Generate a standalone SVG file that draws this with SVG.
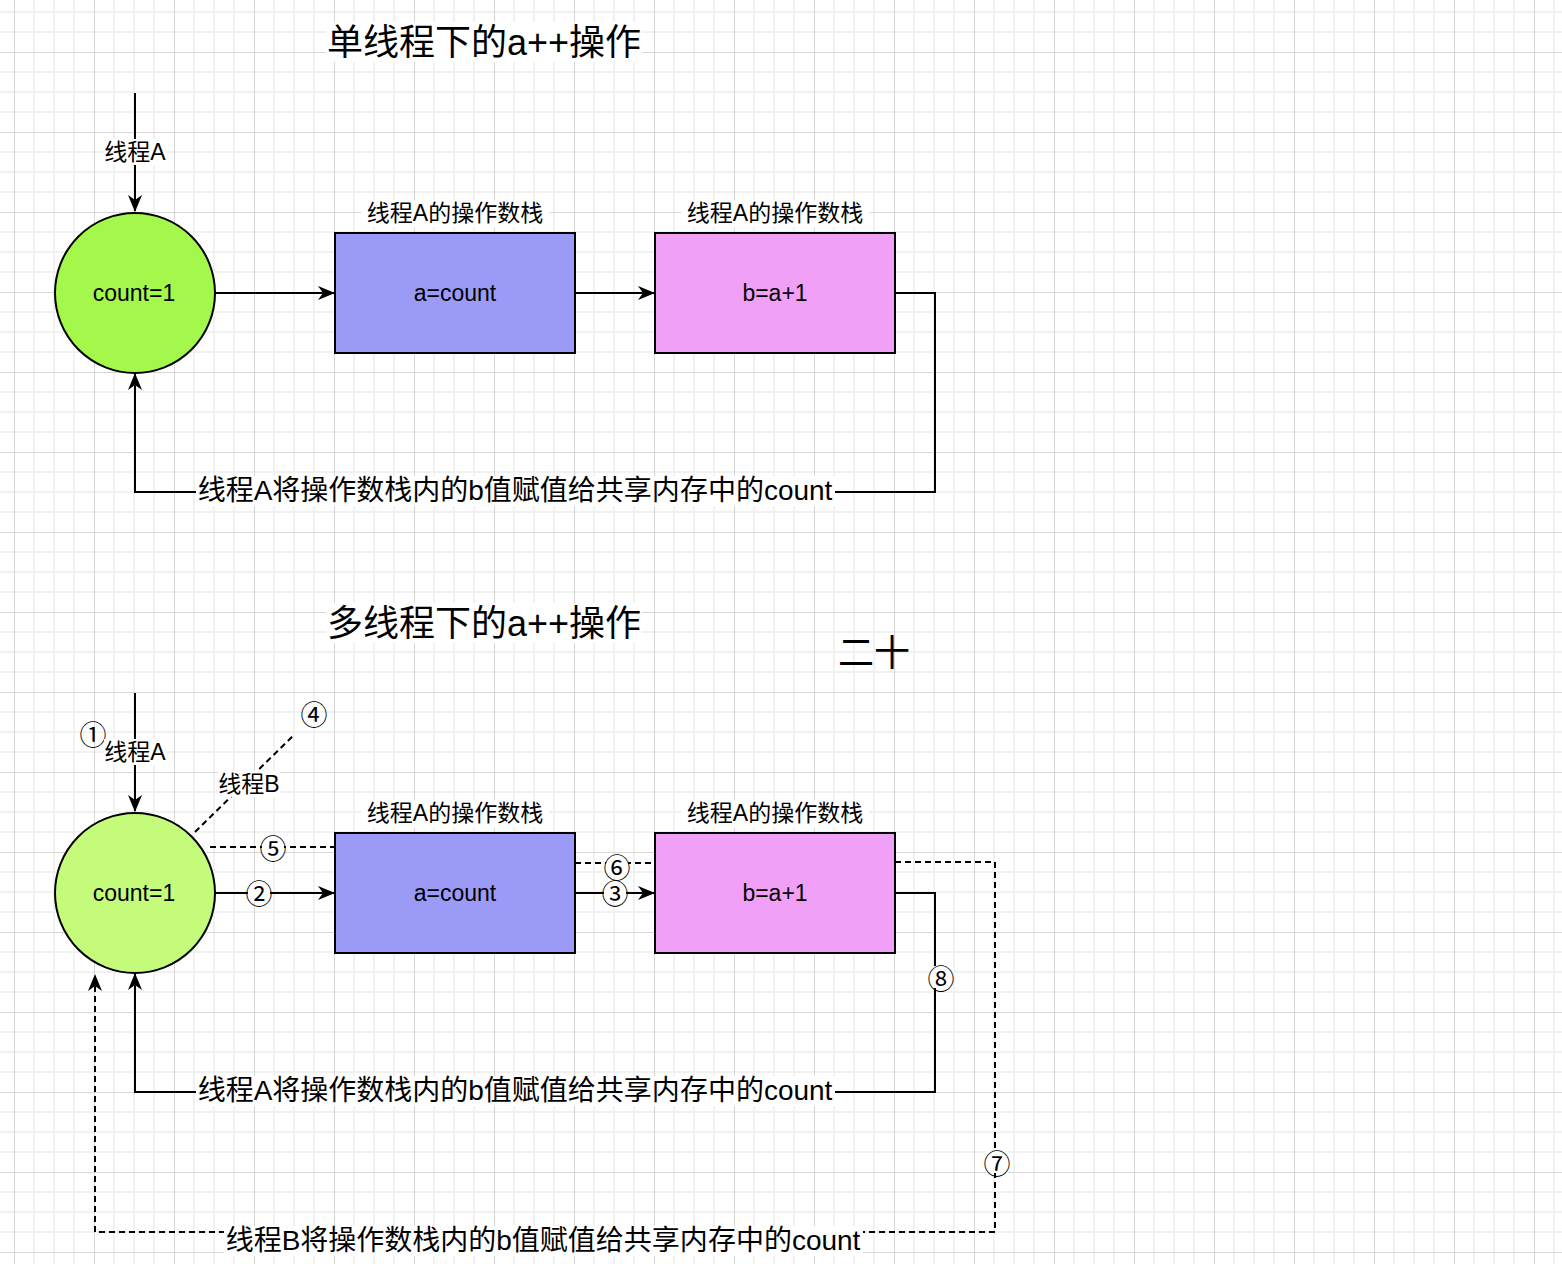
<svg xmlns="http://www.w3.org/2000/svg" width="1562" height="1264" viewBox="0 0 1562 1264">
<defs>
<pattern id="grid" patternUnits="userSpaceOnUse" x="14" y="52" width="80" height="80">
<path d="M20,0V80M40,0V80M60,0V80M0,20H80M0,40H80M0,60H80" stroke="#f1f1f1" stroke-width="2" fill="none"/>
<path d="M0.5,0V80M0,0.5H80" stroke="#d6d6d6" stroke-width="1" fill="none"/>
</pattern>
<marker id="arr" viewBox="0 0 17 14" refX="16" refY="7" markerWidth="17" markerHeight="14" markerUnits="userSpaceOnUse" orient="auto">
<path d="M0,0 L17,7 L0,14 L5,7 Z" fill="#000"/>
</marker>
</defs>
<style>
text{font-family:"Liberation Sans","Noto Sans CJK SC",sans-serif;fill:#000;text-anchor:middle;dominant-baseline:central}
.t{font-size:36px}
.s{font-size:23px}
.l{font-size:28px}
.n{font-family:"Noto Sans CJK SC",sans-serif;font-size:27px}
.ln{fill:none;stroke:#000;stroke-width:2}
.d{stroke-dasharray:6 4}
.bg{fill:#fff}
.node{stroke:#000;stroke-width:2}
</style>
<rect width="1562" height="1264" fill="#fff"/>
<rect width="1562" height="1264" fill="url(#grid)"/>

<g id="connectors">
<path class="ln" d="M135,93V211" marker-end="url(#arr)"/>
<path class="ln" d="M215,293H334" marker-end="url(#arr)"/>
<path class="ln" d="M575,293H654" marker-end="url(#arr)"/>
<path class="ln" d="M895,293H935V492H135V374" marker-end="url(#arr)"/>
<path class="ln" d="M135,693V811" marker-end="url(#arr)"/>
<path class="ln d" d="M195,832L295,734"/>
<path class="ln d" d="M210,847H335"/>
<path class="ln" d="M215,893H334" marker-end="url(#arr)"/>
<path class="ln d" d="M575,863H655"/>
<path class="ln" d="M575,893H654" marker-end="url(#arr)"/>
<path class="ln d" d="M895,862H995V1232H95V975" marker-end="url(#arr)"/>
<path class="ln" d="M895,893H935V1092H135V974" marker-end="url(#arr)"/>
</g>

<g id="title1"><rect class="bg" x="326" y="22" width="316" height="40"/><text class="t" x="484" y="42">单线程下的a++操作</text></g>
<g id="title2"><rect class="bg" x="326" y="603" width="316" height="40"/><text class="t" x="484" y="623">多线程下的a++操作</text></g>
<g id="note"><text class="t" x="874" y="653">二十</text></g>

<g id="countA">
<circle class="node" cx="135" cy="293" r="80" fill="#a4f74b"/>
<text class="s" x="134" y="293">count=1</text>
</g>
<g id="stackA1">
<rect class="node" x="335" y="233" width="240" height="120" fill="#9b9bf7"/>
<text class="s" x="455" y="293">a=count</text>
<rect class="bg" x="361" y="200" width="188" height="27"/>
<text class="s" x="455" y="213">线程A的操作数栈</text>
</g>
<g id="stackA2">
<rect class="node" x="655" y="233" width="240" height="120" fill="#f1a0f8"/>
<text class="s" x="775" y="293">b=a+1</text>
<rect class="bg" x="681" y="200" width="188" height="27"/>
<text class="s" x="775" y="213">线程A的操作数栈</text>
</g>

<g id="countB">
<circle class="node" cx="135" cy="893" r="80" fill="#c5fb7b"/>
<text class="s" x="134" y="893">count=1</text>
</g>
<g id="stackB1">
<rect class="node" x="335" y="833" width="240" height="120" fill="#9b9bf7"/>
<text class="s" x="455" y="893">a=count</text>
<rect class="bg" x="361" y="800" width="188" height="27"/>
<text class="s" x="455" y="813">线程A的操作数栈</text>
</g>
<g id="stackB2">
<rect class="node" x="655" y="833" width="240" height="120" fill="#f1a0f8"/>
<text class="s" x="775" y="893">b=a+1</text>
<rect class="bg" x="681" y="800" width="188" height="27"/>
<text class="s" x="775" y="813">线程A的操作数栈</text>
</g>

<g id="labels">
<rect class="bg" x="104" y="139" width="62" height="26"/>
<text class="s" x="135" y="152">线程A</text>
<rect class="bg" x="196" y="476" width="639" height="30"/>
<text class="l" x="515" y="490">线程A将操作数栈内的b值赋值给共享内存中的count</text>

<text class="n" x="93" y="733">①</text>
<rect class="bg" x="104" y="739" width="62" height="26"/>
<text class="s" x="135" y="752">线程A</text>
<rect class="bg" x="218" y="771" width="62" height="26"/>
<text class="s" x="249" y="784">线程B</text>
<text class="n" x="314" y="713">④</text>
<rect class="bg" x="262" y="837" width="22" height="20"/>
<text class="n" x="273" y="847">⑤</text>
<rect class="bg" x="248" y="882" width="22" height="20"/>
<text class="n" x="259" y="892">②</text>
<rect class="bg" x="606" y="856" width="22" height="20"/>
<text class="n" x="617" y="866">⑥</text>
<rect class="bg" x="604" y="882" width="22" height="20"/>
<text class="n" x="615" y="892">③</text>
<rect class="bg" x="930" y="966" width="22" height="22"/>
<text class="n" x="941" y="977">⑧</text>
<rect class="bg" x="986" y="1151" width="22" height="22"/>
<text class="n" x="997" y="1162">⑦</text>
<rect class="bg" x="196" y="1076" width="639" height="30"/>
<text class="l" x="515" y="1090">线程A将操作数栈内的b值赋值给共享内存中的count</text>
<rect class="bg" x="224" y="1226" width="639" height="30"/>
<text class="l" x="543" y="1240">线程B将操作数栈内的b值赋值给共享内存中的count</text>
</g>
</svg>
